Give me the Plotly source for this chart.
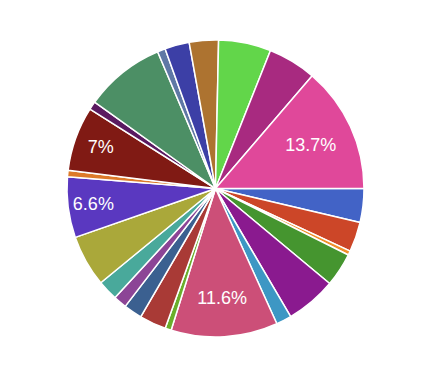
import plotly.graph_objects as go

labels = ["A", "B", "C", "D", "E", "F", "G", "H", "I", "J", "K", "L",
          "M", "N", "O", "P", "Q", "R", "S", "T", "U", "V", "W", "X"]
values = [3.68, 3.24, 0.46, 3.66, 5.5, 1.67, 11.6, 0.67, 2.9, 2.0, 1.45, 2.2,
          5.6, 6.6, 0.7, 7.0, 0.9, 8.75, 0.86, 2.67, 3.17, 5.7, 5.25, 13.7]
shown_labels = ["", "", "", "", "", "", "11.6%", "", "", "", "", "",
                "", "6.6%", "", "7%", "", "", "", "", "", "", "", "13.7%"]
colors = ["#4263c6", "#cc4628", "#f0902a", "#45952f", "#8a1a8f", "#3d97c4",
          "#cc4f78", "#6aae2b", "#a93a36", "#3b6090", "#8c4596", "#49a99b",
          "#aaa83a", "#5a38c0", "#dd7a2a", "#801a14", "#5a1a60", "#4c8f65",
          "#5f78a5", "#3c3fa6", "#ad7330", "#62d64a", "#a82a80", "#e0489a"]

fig = go.Figure(go.Pie(
    labels=labels,
    values=values,
    text=shown_labels,
    textinfo="text",
    textposition="inside",
    insidetextorientation="horizontal",
    sort=False,
    direction="clockwise",
    rotation=90,
    marker=dict(colors=colors, line=dict(color="white", width=1.5)),
    insidetextfont=dict(family="Liberation Sans, Arial", size=18, color="white"),
    hoverinfo="label+percent",
))
fig.update_layout(
    width=440, height=377,
    margin=dict(l=52, r=77, t=32, b=48),
    showlegend=False,
    paper_bgcolor="white",
    plot_bgcolor="white",
)
fig.write_html("out.html")
